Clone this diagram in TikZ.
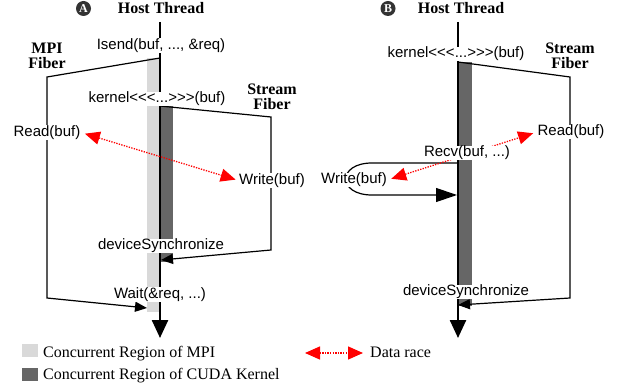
\documentclass[tikz,border=0pt]{standalone}
\usepackage{fontspec}
\setmainfont{Liberation Serif}
\newfontfamily\lblfont{Liberation Sans}
\usetikzlibrary{arrows.meta}
\definecolor{mpigray}{HTML}{D9D9D9}
\definecolor{cudagray}{HTML}{666666}
\definecolor{badgegray}{HTML}{333333}
\newcommand\kernlaunch{kernel<\kern0pt<\kern0pt<...>\kern0pt>\kern0pt>(buf)}

\begin{document}
\begin{tikzpicture}[x=1pt,y=-1pt,
  lbl/.style={fill=white,inner sep=0.5pt,font=\lblfont\fontsize{15}{18}\selectfont},
  ttl/.style={font=\fontsize{16}{15}\selectfont\bfseries,align=center,inner sep=0pt},
  badge/.style={circle,fill=badgegray,text=white,inner sep=0pt,minimum size=15pt,
    font=\fontsize{12}{12}\selectfont\bfseries},
  keybox/.style={minimum width=16pt,minimum height=13pt,inner sep=0pt},
  key/.style={font=\fontsize{16}{18}\selectfont,anchor=base west,inner sep=0pt},
  host/.style={line width=2pt},
  hostend/.style={line width=2.5pt,-{Triangle[length=18pt,width=16pt]}},
  fiber/.style={line width=1.2pt,-{Triangle[length=12pt,width=10pt]}},
  bigfiber/.style={line width=1.2pt,-{Triangle[length=21pt,width=14pt]}},
  race/.style={red,line width=1.3pt,dash pattern=on 1.3pt off 1.3pt,
    {Triangle[length=15pt,width=13pt]}-{Triangle[length=15pt,width=13pt]}}]
  \useasboundingbox (0,0) rectangle (618,387);

  % A
  \coordinate (ha0) at (160,22);
  \coordinate (ha1) at (160,58);
  \coordinate (ha2) at (160,106);
  \coordinate (ha3) at (161,260);
  \coordinate (ha4) at (160,296);
  \coordinate (ha5) at (160,338);
  \coordinate (ma1) at (47,77);
  \coordinate (ma2) at (47,298);
  \coordinate (ma3) at (147,308);
  \coordinate (sa1) at (271,117);
  \coordinate (sa2) at (271,250);
  \fill[mpigray] (147,58) rectangle (160,312);
  \fill[cudagray] (160,106) rectangle (173,262);
  \draw[host] (ha0) -- (ha4);
  \draw[hostend] (ha4) -- (ha5);
  \draw[fiber] (ha1) -- (ma1) -- (ma2) -- (ma3);
  \draw[fiber] (ha2) -- (sa1) -- (sa2) -- (ha3);
  \node[badge] (bA) at (83.5,8.5) {A};
  \node[ttl] (htA) at (161,8) {Host Thread};
  \node[ttl] (mfA) at (47,56) {MPI\\Fiber};
  \node[ttl] (sfA) at (272,97) {Stream\\Fiber};
  \node[lbl] (isend) at (161,45.5) {Isend(buf, ..., \&req)};
  \node[lbl] (kernA) at (157,99) {\kernlaunch};
  \node[lbl] (readA) at (47,132.5) {Read(buf)};
  \node[lbl] (writeA) at (272,180.5) {Write(buf)};
  \node[lbl] (syncA) at (161,246) {deviceSynchronize};
  \node[lbl] (wait) at (160,294.5) {Wait(\&req, ...)};
  \draw[race,shorten <=4pt,shorten >=3pt] (readA.east) -- (writeA.west);

  % B
  \coordinate (hb0) at (458,22);
  \coordinate (hb1) at (458,62);
  \coordinate (hb2) at (458,163);
  \coordinate (hb3) at (457,195);
  \coordinate (hb4) at (458,305);
  \coordinate (hb5) at (458,296);
  \coordinate (hb6) at (458,338);
  \coordinate (mb1) at (372,163);
  \coordinate (mb2) at (372,195);
  \coordinate (sb1) at (570,77);
  \coordinate (sb2) at (570,298);
  \fill[cudagray] (458,62) rectangle (472,306);
  \draw[host] (hb0) -- (hb5);
  \draw[hostend] (hb5) -- (hb6);
  \draw[fiber] (hb1) -- (sb1) -- (sb2) -- (hb4);
  \draw[bigfiber] (hb2) -- (mb1) to[out=180,in=180,looseness=2.8] (mb2) -- (hb3);
  \node[badge] (bB) at (388,8.5) {B};
  \node[ttl] (htB) at (461,8) {Host Thread};
  \node[ttl] (sfB) at (570,56) {Stream\\Fiber};
  \node[lbl] (kernB) at (456,54) {\kernlaunch};
  \node[lbl] (readB) at (571,132) {Read(buf)};
  \node[lbl] (writeB) at (354,180) {Write(buf)};
  \draw[race,shorten <=4pt,shorten >=4pt] (writeB.east) -- (readB.west);
  \node[lbl] (recv) at (467,153) {Recv(buf, ...)};
  \node[lbl] (syncB) at (466,292) {deviceSynchronize};

  % legend
  \node[keybox,fill=mpigray] (kmpi) at (30,350.5) {};
  \node[keybox,fill=cudagray] (kcuda) at (30,374) {};
  \node[key] (tmpi) at (43,357) {Concurrent Region of MPI};
  \node[key] (tcuda) at (43,379) {Concurrent Region of CUDA Kernel};
  \coordinate (kr0) at (305,353);
  \coordinate (kr1) at (363,353);
  \draw[race] (kr0) -- (kr1);
  \node[key] (trace) at (370,357) {Data race};
\end{tikzpicture}
\end{document}
